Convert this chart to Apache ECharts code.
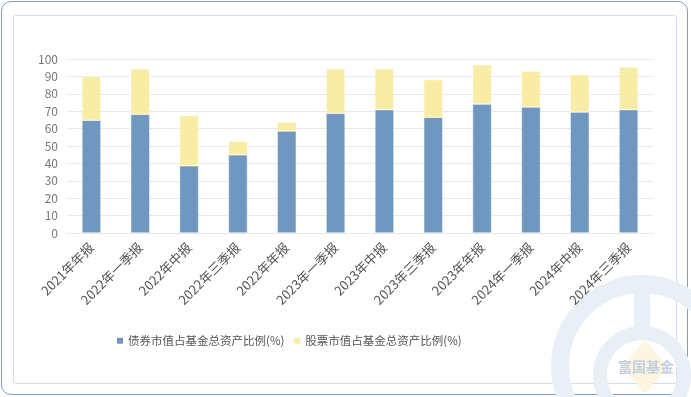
<!DOCTYPE html>
<html>
<head>
<meta charset="utf-8">
<script src="https://cdn.jsdelivr.net/npm/echarts@6/dist/echarts.min.js"></script>
<style>
  html, body { margin: 0; padding: 0; background: #fff; }
  .frame {
    position: absolute; left: 1px; top: 1px; width: 687px; height: 394px;
    border: 1.5px solid #7f9ccb; border-radius: 10px; box-sizing: border-box;
  }
  .inner {
    position: absolute; left: 13px; top: 15px; width: 664px; height: 369px;
    border: 1px solid #d3ddec; border-radius: 3px; box-sizing: border-box;
  }
  #chart { position: absolute; left: 0; top: 0; width: 691px; height: 397px; }
</style>
</head>
<body>
<div class="frame"></div>
<div class="inner"></div>
<div id="chart"></div>
<script>
// 报告期
var periods = ["2021年年报", "2022年一季报", "2022年中报", "2022年三季报", "2022年年报", "2023年一季报",
  "2023年中报", "2023年三季报", "2023年年报", "2024年一季报", "2024年中报", "2024年三季报"];
// 债券市值占基金总资产比例(%)
var bondRatio = [64.8, 68.2, 38.6, 44.9, 58.6, 68.8, 70.9, 66.5, 74.1, 72.4, 69.5, 70.9];
// 股票市值占基金总资产比例(%)
var stockRatio = [25.2, 26.2, 28.9, 7.9, 5.2, 25.6, 23.5, 21.6, 22.6, 20.7, 21.5, 24.5];
var legendNames = ["债券市值占基金总资产比例(%)", "股票市值占基金总资产比例(%)"];

var font = "'Noto Sans CJK SC', 'Noto Sans', sans-serif";
var myChart = echarts.init(document.getElementById("chart"));

var option = {
  color: ["#7097bf", "#f9eca4"],
  textStyle: { fontFamily: font },
  animation: false,
  legend: {
    data: legendNames,
    left: 110,
    top: 330,
    itemWidth: 8,
    itemHeight: 8,
    itemGap: 8,
    icon: "rect",
    textStyle: { color: "#555", fontSize: 11.5, fontFamily: font, padding: [0, 0, 0, -1] }
  },
  grid: {
    left: 67,
    right: 38,
    top: 59,
    height: 174,
    containLabel: false
  },
  xAxis: {
    type: "category",
    data: periods,
    axisLine: { lineStyle: { color: "#e6e6e6" } },
    axisTick: { show: false },
    axisLabel: {
      rotate: 45,
      color: "#555",
      fontSize: 13,
      margin: 12,
      interval: 0,
      fontFamily: font
    }
  },
  yAxis: {
    type: "value",
    min: 0,
    max: 100,
    interval: 10,
    axisLine: { show: false },
    axisTick: { show: false },
    axisLabel: { color: "#777", fontSize: 12, margin: 9, fontFamily: font },
    splitLine: { lineStyle: { color: "#e8e8e8" } }
  },
  series: [
    {
      name: legendNames[0],
      type: "bar",
      stack: "total",
      barWidth: 19,
      data: bondRatio,
      itemStyle: { borderColor: "#fff", borderWidth: 0.5 }
    },
    {
      name: legendNames[1],
      type: "bar",
      stack: "total",
      barWidth: 19,
      data: stockRatio,
      itemStyle: { borderColor: "#fff", borderWidth: 0.5 }
    }
  ],
  // 富国基金水印
  graphic: [
    {
      type: "group",
      silent: true,
      z: -10,
      children: [
        {
          type: "circle",
          shape: { cx: 642, cy: 366, r: 82 },
          style: { fill: "none", stroke: "#e9eff7", lineWidth: 18 }
        },
        {
          type: "rect",
          shape: { x: 634, y: 278, width: 16, height: 52 },
          style: { fill: "#e9eff7" }
        },
        {
          type: "circle",
          shape: { cx: 642, cy: 375, r: 42 },
          style: { fill: "none", stroke: "#e9eff7", lineWidth: 14 }
        },
        {
          type: "polygon",
          shape: { points: [[645, 340], [668, 367], [645, 394], [622, 367]] },
          style: { fill: "#fdf5e0" }
        },
        {
          type: "text",
          style: {
            x: 646, y: 367, text: "富国基金", fill: "#c3cfe0",
            font: "bold 14px " + font, textAlign: "center", textVerticalAlign: "middle"
          }
        }
      ]
    }
  ]
};
myChart.setOption(option);
</script>
</body>
</html>
